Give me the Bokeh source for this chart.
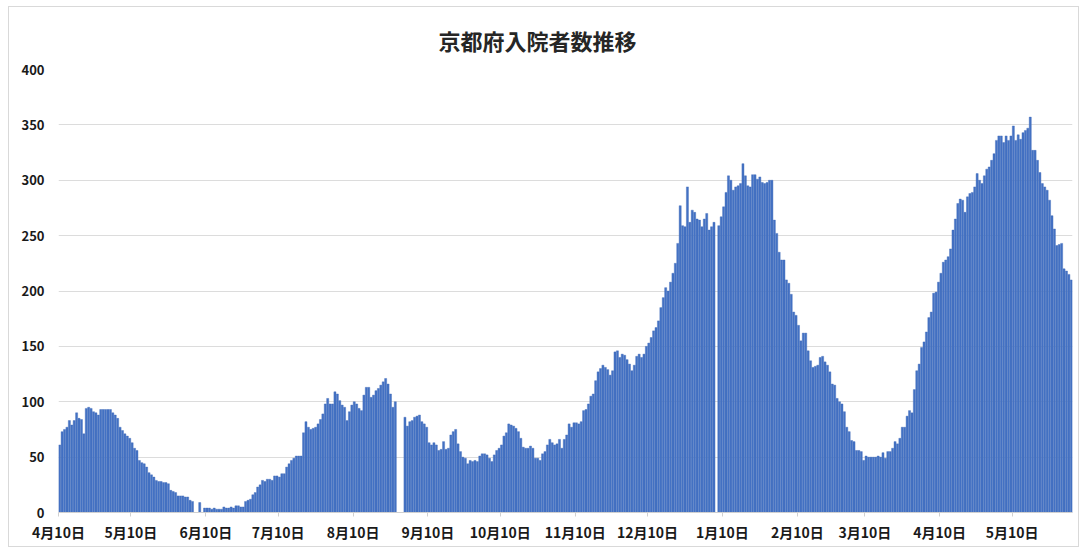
import numpy as np
import pandas as pd
from bokeh.plotting import figure
from bokeh.models import Range1d, FixedTicker, CustomJSTickFormatter, ColumnDataSource
from bokeh.embed import file_html
from bokeh.resources import INLINE

# ---------------- data ----------------
title_text = "京都府入院者数推移"
start_date = "2020-04-10"          # first day of the daily series
# daily number of hospitalised patients (None = no data for that day)
inpatients = [
    61, 73, 75, 77, 83, 79, 83, 90, 85, 84,
    71, 94, 95, 94, 91, 90, 88, 93, 93, 93,
    93, 93, 90, 88, 85, 77, 74, 71, 69, 67,
    63, 58, 56, 47, 45, 44, 41, 36, 34, 32,
    29, 28, 28, 27, 27, 26, 20, 19, 18, 15,
    15, 15, 14, 14, 11, 10, None, None, 9, None,
    4, 4, 4, 3, 4, 3, 3, 3, 5, 4,
    4, 5, 4, 6, 6, 5, 5,
    10, 11, 12, 16, 18, 23, 25, 29, 28, 30,
    30, 29, 33, 33, 32, 35, 35, 41, 44, 47,
    49, 51, 51, 51, 72, 82, 77, 75, 76, 77,
    80, 84, 89, 98, 103, 98, 98, 109, 107, 101,
    97, 95, 83, 91, 97, 100, 98, 94, 92, 106,
    113, 113, 104, 106, 110, 112, 115, 118, 121, 116,
    107, 95, 100,
    None, None, None,
    86, 78, 82, 83, 86, 87, 88, 82, 80, 77,
    63, 61, 63, 61, 56, 57, 64, 57, 58, 70,
    73, 75, 62, 55, 50, 49, 44, 47, 46, 47,
    46, 51, 53, 53, 52, 49, 46, 52, 56, 58,
    61, 69, 72, 80, 79, 78, 76, 73, 67, 59,
    58, 58, 60, 58, 49, 49, 47, 53, 55, 61,
    66, 63, 61, 62, 66,
    58, 66, 70, 80, 77, 81, 81, 80, 82, 92,
    93, 98, 105, 107, 119, 127, 130, 133, 131, 129,
    124, 128, 145, 146, 140, 143, 142, 138, 134, 128,
    133, 141, 143, 140, 143, 150, 153, 158, 164, 167,
    173, 185, 194, 203, 200, 208, 216, 225, 243, 277,
    259, 258, 294, 262, 273, 271, 265, 264, 258, 265,
    270, 255, 258, 262, None, 259, 267, 276,
    289, 304, 300, 291, 294, 295, 297, 315, 304, 295,
    294, 305, 305, 301, 303, 298, 297, 298, 300, 300,
    264, 252, 235, 228, 228, 210, 207, 197, 181, 178,
    169, 155, 162, 162, 146, 137, 131, 132, 133, 140,
    141, 136, 133, 127, 116, 115, 103, 100, 98, 91,
    77, 73, 65, 64, 56, 56, 55, 47, 51, 50,
    50, 50, 50, 51, 50, 54, 49, 55, 55, 58,
    64,
    62, 67, 77, 77, 87, 92, 90, 111, 128, 134,
    149, 154, 163, 176, 181, 198, 199, 208, 216, 226,
    228, 231, 238, 255, 265, 279, 283, 282, 271, 285,
    288, 289, 294, 306, 300, 297, 304, 310, 312, 318,
    324, 336, 340, 340, 334, 340, 336, 340, 349, 336,
    341, 337, 343, 345, 347, 357, 327, 327, 318, 307,
    297, 294, 291, 282, 268, 256, 241, 242, 243, 220,
    218, 215, 210,
]
tick_dates = ["2020-04-10", "2020-05-10", "2020-06-10", "2020-07-10", "2020-08-10",
              "2020-09-10", "2020-10-10", "2020-11-10", "2020-12-10", "2021-01-10",
              "2021-02-10", "2021-03-10", "2021-04-10", "2021-05-10"]
y_ticks = [0, 50, 100, 150, 200, 250, 300, 350, 400]

# ---------------- build ----------------
dates = pd.date_range(start_date, periods=len(inpatients), freq="D")
keep = [v is not None for v in inpatients]
src = ColumnDataSource(dict(
    x=[d + pd.Timedelta(hours=12) for d, k in zip(dates, keep) if k],
    top=[v for v in inpatients if v is not None],
))

DAY_MS = 86400000
x_start = pd.Timestamp(start_date)
x_end = dates[-1] + pd.Timedelta(days=1)

p = figure(width=1069, height=539, x_axis_type="datetime",
           x_range=Range1d(x_start, x_end), y_range=Range1d(0, y_ticks[-1]),
           output_backend="svg", toolbar_location=None,
           min_border_left=49, min_border_right=6, min_border_top=62, min_border_bottom=34,
           background_fill_color="white", border_fill_color="white",
           margin=(7, 0, 0, 9))
p.styles = {"outline": "1px solid #d9d9d9"}
p.outline_line_color = None

p.vbar(x="x", top="top", width=0.86 * DAY_MS, source=src,
       fill_color="#4472c4", line_color="#3f69b8", line_width=0.4)

FONT = "Noto Sans CJK JP"
p.title.text = title_text
p.title.align = "left"
p.title.offset = 380
p.title.text_font = FONT
p.title.text_font_size = "22px"
p.title.text_font_style = "bold"
p.title.text_color = "#262626"
p.title.standoff = 28

p.xaxis.ticker = FixedTicker(ticks=[pd.Timestamp(d).value / 1e6 for d in tick_dates])
p.xaxis.formatter = CustomJSTickFormatter(code="""
    const d = new Date(tick);
    return (d.getUTCMonth() + 1) + "月" + d.getUTCDate() + "日";
""")
p.yaxis.ticker = FixedTicker(ticks=y_ticks)

for ax in (p.xaxis[0], p.yaxis[0]):
    ax.major_label_text_font = FONT
    ax.major_label_text_font_style = "bold"
    ax.major_label_text_color = "#1a1a1a"
    ax.minor_tick_line_color = None
p.xaxis.major_label_text_font_size = "14px"
p.yaxis.major_label_text_font_size = "13px"

p.xaxis.axis_line_color = "#d0d0d0"
p.xaxis.major_tick_line_color = "#d0d0d0"
p.xaxis.major_tick_out = 4
p.xaxis.major_tick_in = 0
p.xaxis.major_label_standoff = 5

p.yaxis.axis_line_color = None
p.yaxis.major_tick_line_color = None
p.yaxis.major_label_standoff = 8

p.xgrid.grid_line_color = None
p.ygrid.grid_line_color = "#dcdcdc"
p.ygrid.grid_line_width = 1

open("out.html", "w").write(file_html(p, INLINE))
